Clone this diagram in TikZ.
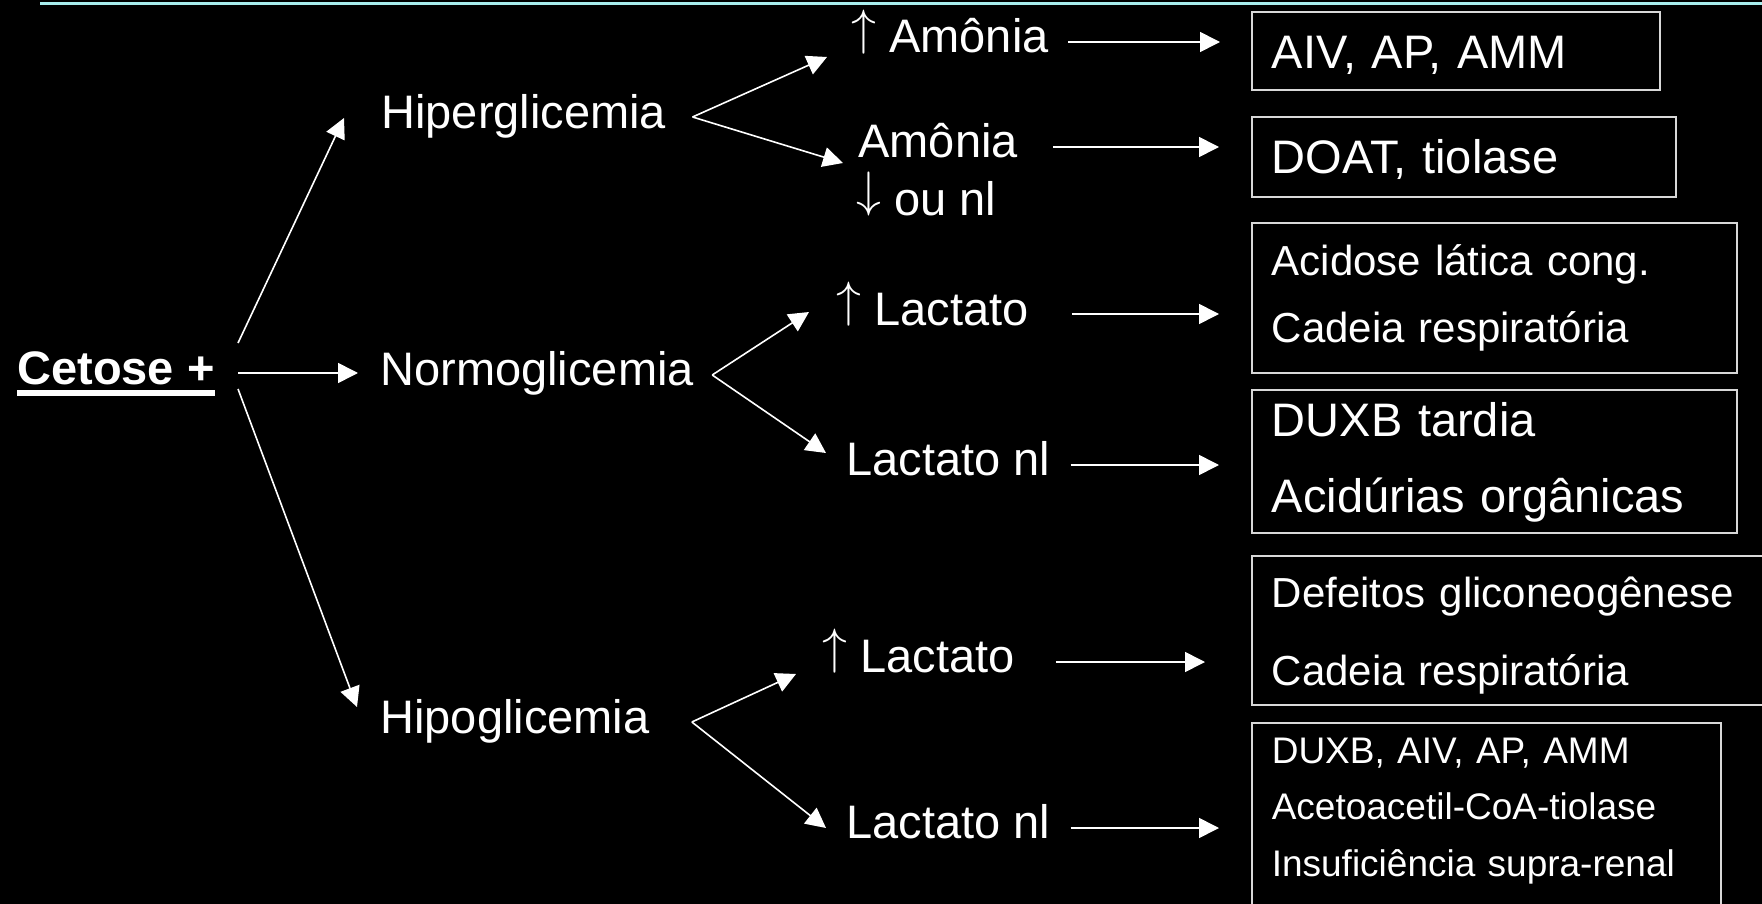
\documentclass[tikz,border=0pt]{standalone}
\usepackage{fontspec}
\setmainfont{Liberation Sans}
\usepackage{tikz}
\usetikzlibrary{arrows.meta,calc}
\definecolor{slidebg}{HTML}{000000}
\definecolor{slideline}{HTML}{A8EEEE}
\definecolor{boxline}{HTML}{D8D8D8}
\newcommand{\sizeL}{\fontsize{23.5pt}{28pt}\selectfont}
\newcommand{\upar}{\raisebox{.19em}[.7em][0pt]{$\uparrow$}}
\newcommand{\dnar}{\raisebox{.19em}[.7em][0pt]{$\downarrow$}}
\tikzset{
  lbl/.style={anchor=base west,inner sep=0pt,text=white,font=\sizeL},
  res/.style={anchor=base west,draw=boxline,line width=0.8pt,inner xsep=10pt,inner ysep=0pt,text=white,align=left},
  ar/.style={-{Triangle[length=10pt,width=10pt]},draw=white,line width=0.8pt},
}

\begin{document}
\begin{tikzpicture}[x=0.5pt,y=-0.5pt]
  \useasboundingbox (0,0) rectangle (1762,904);
  \fill[slidebg] (0,0) rectangle (1762,904);
  \draw[slideline,line width=1.5pt] (40,4) -- (1762,4);
  % ponto de partida e glicemia
  \node[lbl,font=\sizeL\bfseries] (cet) at (17,384) {Cetose +};
  \draw[white,line width=2.75pt] ([shift={(0,9)}]cet.base west) -- ([shift={(0,9)}]cet.base east);
  \node[lbl] (hiper) at (381,128) {Hiperglicemia};
  \node[lbl] (normo) at (380,385) {Normoglicemia};
  \node[lbl] (hipo) at (380,733) {Hipoglicemia};
  % amonia / lactato
  \node[lbl] (amUp) at (851,53) {\upar\ Amônia};
  \node[lbl] (amDn) at (858,157) {Amônia};
  \node[lbl] (amDnb) at (856,215) {\dnar\ ou nl};
  \node[lbl] (laUpN) at (836,325) {\upar\ Lactato};
  \node[lbl] (laNlN) at (846,475) {Lactato nl};
  \node[lbl] (laUpH) at (822,672) {\upar\ Lactato};
  \node[lbl] (laNlH) at (846,838) {Lactato nl};
  % caixas de diagnostico
  \node[res,font=\sizeL,text width=184pt,text height=28.5pt,text depth=10.5pt] (b1) at (1251,69) {AIV, AP, AMM};
  \node[res,font=\sizeL,text width=192pt,text height=28.5pt,text depth=11.5pt] (b2) at (1251,174) {DOAT, tiolase};
  \node[res,font={\fontsize{21pt}{33.5pt}\selectfont},text width=222.5pt,text height=26pt,text depth=49pt] (b3) at (1251,275) {Acidose lática cong.\\Cadeia respiratória};
  \node[res,font={\fontsize{23.5pt}{38pt}\selectfont},text width=222.5pt,text height=23pt,text depth=48.5pt] (b4) at (1251,436) {DUXB tardia\\Acidúrias orgânicas};
  \node[res,font={\fontsize{21pt}{39pt}\selectfont},text width=260pt,text height=25.5pt,text depth=49pt] (b5) at (1251,607) {Defeitos gliconeogênese\\Cadeia respiratória};
  \node[res,font={\fontsize{18.5pt}{28.25pt}\selectfont},text width=214.5pt,text height=20pt,text depth=88.5pt] (b6) at (1251,763) {DUXB, AIV, AP, AMM\\Acetoacetil-CoA-tiolase\\Insuficiência supra-renal};
  % setas
  \draw[ar] ([shift={(23,-41)}]cet.base east) -- ([shift={(-37,-10)}]hiper.base west);
  \draw[ar] ([shift={(23,-11)}]cet.base east) -- ([shift={(-22,-12)}]normo.base west);
  \draw[ar] ([shift={(23,5)}]cet.base east) -- ([shift={(-23,-26)}]hipo.base west);
  \coordinate (fk1) at ([shift={(26,-11)}]hiper.base east);
  \coordinate (fk2) at ([shift={(18,-10)}]normo.base east);
  \coordinate (fk3) at ([shift={(42,-11)}]hipo.base east);
  \draw[ar] (fk1) -- ([shift={(-24,4)}]amUp.base west);
  \draw[ar] (fk1) -- ([shift={(-15,6)}]amDn.base west);
  \draw[ar] (fk2) -- ([shift={(-27,-13)}]laUpN.base west);
  \draw[ar] (fk2) -- ([shift={(-20,-22)}]laNlN.base west);
  \draw[ar] (fk3) -- ([shift={(-26,2)}]laUpH.base west);
  \draw[ar] (fk3) -- ([shift={(-20,-10)}]laNlH.base west);
  \draw[ar] ([shift={(19,-11)}]amUp.base east) -- ([shift={(-31,-11)}]amUp.base east -| b1.west);
  \draw[ar] ([shift={(35,-10)}]amDn.base east) -- ([shift={(-32,-10)}]amDn.base east -| b2.west);
  \draw[ar] ([shift={(43,-11)}]laUpN.base east) -- ([shift={(-32,-11)}]laUpN.base east -| b3.west);
  \draw[ar] ([shift={(20,-10)}]laNlN.base east) -- ([shift={(-32,-10)}]laNlN.base east -| b4.west);
  \draw[ar] ([shift={(41,-10)}]laUpH.base east) -- ([shift={(-46,-10)}]laUpH.base east -| b5.west);
  \draw[ar] ([shift={(20,-10)}]laNlH.base east) -- ([shift={(-32,-10)}]laNlH.base east -| b6.west);
\end{tikzpicture}
\end{document}
